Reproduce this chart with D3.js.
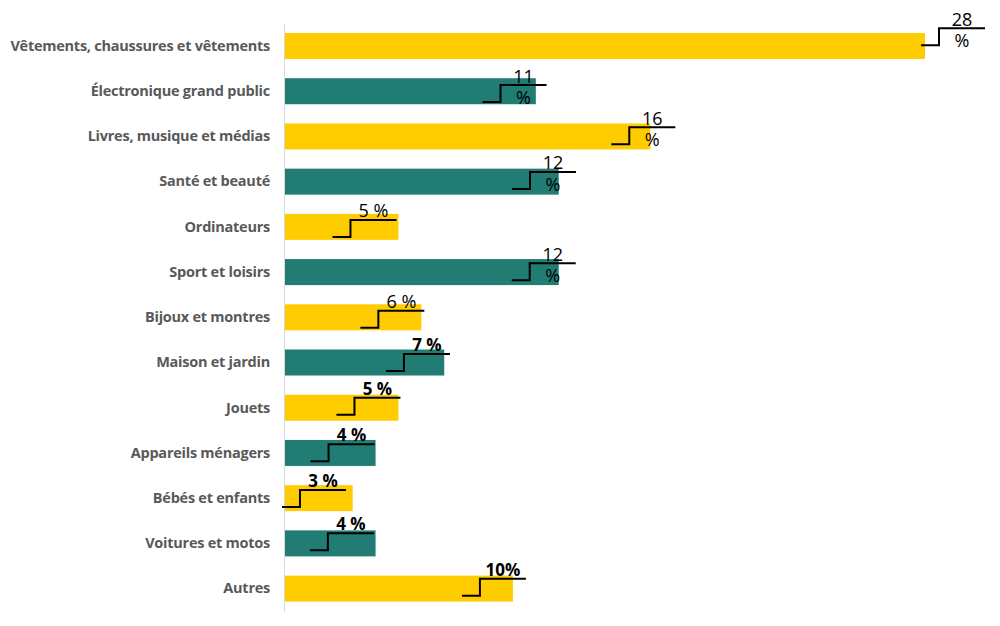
<!DOCTYPE html>
<html><head><meta charset="utf-8">
<script src="https://cdn.jsdelivr.net/npm/d3@7"></script>
<style>html,body{margin:0;padding:0;background:#fff;}</style>
</head><body>
<svg id="chart" width="1000" height="626"></svg>
<script>
const categories = ["Vêtements, chaussures et vêtements","Électronique grand public","Livres, musique et médias","Santé et beauté","Ordinateurs","Sport et loisirs","Bijoux et montres","Maison et jardin","Jouets","Appareils ménagers","Bébés et enfants","Voitures et motos","Autres"];
const values = [28, 11, 16, 12, 5, 12, 6, 7, 5, 4, 3, 4, 10];
const labels = ["28 %","11 %","16 %","12 %","5 %","12 %","6 %","7 %","5 %","4 %","3 %","4 %","10%"];
const labelBold = [false,false,false,false,false,false,false,true,true,true,true,true,true];
const labelWrap = [true,true,true,true,false,true,false,false,false,false,false,false,false];
// callout nudges (px) relative to bar end / bar centre
const nudgeX = [60, 10.7, 25, 17.3, -2, 17, 3, 5.7, 2, -1, -6.7, -1.7, 13];
const nudgeY = [-17.7, -6.2, -9.1, -9.7, -6.9, -8.8, -6.6, -8.5, -10, -8.6, -8.2, -10.1, -9.9];

const colors = ["#FFCC00", "#217D74"];
const svg = d3.select("#chart");
const x = d3.scaleLinear().domain([0, 28]).range([284, 925]);
const y = d3.scaleBand().domain(categories).range([23.4, 611.2]).paddingInner(0.425).paddingOuter(0.2125);

const data = categories.map((c, i) => ({c, v: values[i], l: labels[i], b: labelBold[i], w: labelWrap[i], dx: nudgeX[i], dy: nudgeY[i], i}));

svg.selectAll("rect.bar").data(data).join("rect")
  .attr("class","bar")
  .attr("x", x(0))
  .attr("y", d => y(d.c))
  .attr("width", d => x(d.v) - x(0))
  .attr("height", y.bandwidth())
  .attr("fill", d => colors[d.i % 2]);

// axis line
const yAxis = svg.append("g").attr("transform", `translate(${x(0)},0)`)
  .call(d3.axisLeft(y).tickSize(0).tickPadding(14));
yAxis.select(".domain").attr("stroke", "#d9d9d9").attr("stroke-width", 1);
yAxis.selectAll("text")
  .attr("font-family", "'Open Sans', sans-serif")
  .attr("font-size", 14.5)
  .attr("letter-spacing", "-0.25px")
  .attr("font-weight", "bold")
  .attr("fill", "#595959")
  .attr("dy", "0.33em");

// callouts
const g = svg.append("g").selectAll("g").data(data).join("g");
g.append("path")
  .attr("fill", "none")
  .attr("stroke", "#000")
  .attr("stroke-width", 2)
  .attr("d", d => {
    const xe = x(d.v) + d.dx;
    const yu = y(d.c) + y.bandwidth()/2 + d.dy;
    return `M${xe-64},${yu+17}H${xe-46}V${yu}H${xe}`;
  });
g.each(function(d) {
  const xe = x(d.v) + d.dx;
  const yu = y(d.c) + y.bandwidth()/2 + d.dy;
  const cx = xe - 23;
  const sel = d3.select(this);
  const txt = (s, yy) => sel.append("text")
    .attr("x", cx).attr("y", yy)
    .attr("text-anchor", "middle")
    .attr("font-family", "'Open Sans', sans-serif")
    .attr("font-size", d.b ? 17 : 18)
    .attr("font-weight", d.b ? "bold" : "normal")
    .attr("fill", "#000")
    .text(s);
  if (d.w) {
    const parts = d.l.split(" ");
    txt(parts[0], yu - 2.5);
    txt(parts[1], yu + 19);
  } else {
    txt(d.l, yu - 3);
  }
});
</script>
</body></html>
